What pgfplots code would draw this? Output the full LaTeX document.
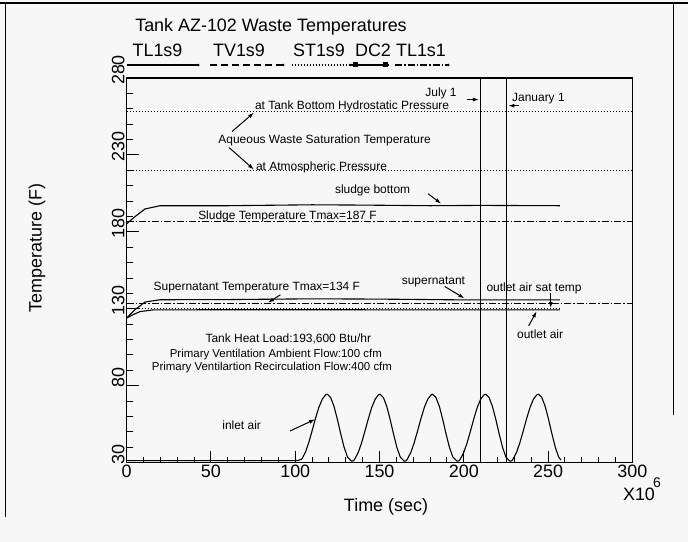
\documentclass[border=0pt]{standalone}
\usepackage{pgfplots}
\pgfplotsset{compat=1.18}
\usepackage{fontspec}
\setmainfont{Liberation Sans}
\usetikzlibrary{arrows.meta}

\definecolor{paper}{RGB}{247,247,247}

\tikzset{
  ann/.style={font=\fontsize{12}{14}\selectfont, anchor=base, inner sep=0pt},
  big/.style={font=\fontsize{18}{20}\selectfont, inner sep=0pt},
  arr/.style={-{Latex[length=6bp,width=4bp]}, line width=1bp},
  dotl/.style={line width=1.1bp, dash pattern=on 1.2bp off 1.8bp},
  dashl/.style={line width=1.1bp, dash pattern=on 7bp off 4bp},
  dashdotl/.style={line width=1.1bp, dash pattern=on 7bp off 2bp on 1.5bp off 2bp},
}

% inlet air temperature (F) vs time (1e6 s)
\pgfplotstableread{
t T
0 31.3
98 31.3
102 31.5
104 32.5
106 36.7
108 43.0
110 50.7
112 58.7
114 65.9
116 71.2
118 74.1
119 74.5
121 72.4
123 66.6
125 58.2
127 48.7
129 40.0
131 33.7
133.4 31
134.6 31.2
135.4 32.5
137.4 36.7
139.4 43.0
141.4 50.7
143.4 58.7
145.4 65.9
147.4 71.2
149.4 74.1
150.3 74.5
152.3 72.4
154.3 66.6
156.3 58.2
158.3 48.7
160.3 40.0
162.3 33.7
164.6 31
165.8 31.2
166.6 32.5
168.6 36.7
170.6 43.0
172.6 50.7
174.6 58.7
176.6 65.9
178.6 71.2
180.6 74.1
181.5 74.5
183.5 72.4
185.5 66.6
187.5 58.2
189.5 48.7
191.5 40.0
193.5 33.7
196 31
197.2 31.2
198 32.5
200 36.7
202 43.0
204 50.7
206 58.7
208 65.9
210 71.2
212 74.1
213 74.5
215 72.4
217 66.6
219 58.2
221 48.7
223 40.0
225 33.7
227.3 31
228.5 31.2
229.3 32.5
231.3 36.7
233.3 43.0
235.3 50.7
237.3 58.7
239.3 65.9
241.3 71.2
243.3 74.1
244.3 74.5
246.3 72.4
248.3 66.6
250.3 58.2
252.3 48.7
254.3 40.0
256.3 33.7
257.6 31.8
}\inletair

\begin{document}
\begin{tikzpicture}[x=1bp,y=1bp]
\fill[paper] (0,0) rectangle (688,542);
\path[use as bounding box] (0,0) rectangle (688,542);
% frame of the scanned page
\draw[line width=2bp] (0,539) -- (688,539);
\draw[line width=1bp] (5,539) -- (5,25);
\draw[line width=1bp] (673,539) -- (673,127);

% title and key
\node[big] at (271,515.3) {Tank AZ-102 Waste Temperatures};
\node[big] at (157.5,491.3) {TL1s9};
\node[big] at (239,491.3) {TV1s9};
\node[big] at (319,491.3) {ST1s9};
\node[big] at (373,491.3) {DC2};
\node[big] at (421,491.3) {TL1s1};
\draw[line width=1.1bp] (126.7,477) -- (198.3,477);
\draw[dashl] (210,477) -- (283.3,477);
\draw[dotl] (291.7,477) -- (350,477);
\draw[line width=1.1bp] (350.7,477) -- (389.3,477);
\fill (352.5,474.5) rectangle (357.5,479.5);
\fill (382.5,474.5) rectangle (387.5,479.5);
\draw[dashdotl] (395,477) -- (448.3,477);
\foreach \p in {198.3,283.3,350,448.3} \fill (\p,477) circle (1.3bp);

% axis titles
\node[big, rotate=90] at (37,294) {Temperature (F)};
\node[big] at (386,35) {Time (sec)};
\node[big] at (639,48) {X10};
\node[font=\fontsize{14}{16}\selectfont, inner sep=0pt] at (657,59) {6};

\begin{axis}[
  at={(126.7bp,79.3bp)}, anchor=south west,
  scale only axis, width=505.6bp, height=384.7bp,
  xmin=0, xmax=300, ymin=30, ymax=280,
  xtick={0,50,...,300}, ytick={30,80,...,280},
  minor xtick={0,10,...,300}, minor ytick={30,40,...,280},
  tick pos=left, tick align=inside,
  major tick length=12bp, minor tick length=6bp,
  every tick/.style={black, line width=1bp},
  axis line style={line width=1.3bp},
  /pgf/number format/assume math mode=true,
  tick label style={font=\fontsize{18}{20}\selectfont},
  xticklabel style={inner sep=2bp},
  yticklabel style={rotate=90, anchor=south, inner sep=2bp, xshift=8bp},
  clip=false,
]
% saturation temperatures
\addplot[dotl] coordinates {(0,258.2) (300,258.2)};
\addplot[dotl] coordinates {(0,220) (300,220)};
% Tmax lines
\addplot[dashdotl] coordinates {(0,186.7) (300,186.7)};
\addplot[dashdotl] coordinates {(0,133.7) (300,133.7)};
% sludge bottom
\addplot[line width=1.1bp] coordinates {
  (0,185.3) (5,190) (10.9,194.9) (19.8,197) (60,197) (110,197.6)
  (140,197.4) (180,197) (210,197.2) (257,197)};
% supernatant
\addplot[line width=1.1bp] coordinates {
  (0,124) (5,129.5) (10.9,134.4) (19.8,135.9) (60,136) (110,136.5)
  (150,136.3) (200,135.8) (257,135.8)};
% outlet air sat temp
\addplot[dotl] coordinates {(0,130.3) (257,130.3)};
% outlet air
\addplot[line width=1.1bp] coordinates {
  (0,124) (4,126.3) (7.9,128.2) (15.8,129.3) (60,129.4) (257,129.3)};
% inlet air
\addplot[line width=1.1bp] table[x=t, y=T] {\inletair};
% July 1 and January 1
\addplot[line width=1.1bp] coordinates {(210.1,30) (210.1,280)};
\addplot[line width=1.1bp] coordinates {(225.5,30) (225.5,280)};

% annotations
\node[ann] at (axis cs:133.7,259.3) {at Tank Bottom Hydrostatic Pressure};
\node[ann] at (axis cs:117.4,237.7) {Aqueous Waste Saturation Temperature};
\node[ann] at (axis cs:115.6,219.8) {at Atmospheric Pressure};
\draw[arr] (axis cs:62.5,245.2) -- (axis cs:75.5,257.5);
\draw[arr] (axis cs:60.7,234.8) -- (axis cs:75.5,220.5);
\node[ann] at (axis cs:186.5,267.8) {July 1};
\draw[arr] (axis cs:202,266) -- (axis cs:209,266);
\node[ann] at (axis cs:244.3,264.5) {January 1};
\draw[arr] (axis cs:232.5,262) -- (axis cs:226.5,262);
\node[ann] at (axis cs:145.9,205.2) {sludge bottom};
\draw[arr] (axis cs:178.8,204.8) -- (axis cs:186.6,198.3);
\node[ann] at (axis cs:95.4,188.2) {Sludge Temperature Tmax=187 F};
\node[ann] at (axis cs:77.2,141.7) {Supernatant Temperature Tmax=134 F};
\draw[arr] (axis cs:91.2,139.1) -- (axis cs:83.8,134);
\node[ann] at (axis cs:182,146.1) {supernatant};
\draw[arr] (axis cs:188.7,144.5) -- (axis cs:200.4,136.8);
\node[ann] at (axis cs:241.7,141.1) {outlet air sat temp};
\draw[arr] (axis cs:251.6,140.2) -- (axis cs:251.6,130.5);
\node[ann] at (axis cs:245.3,110.9) {outlet air};
\draw[arr] (axis cs:238.5,118.9) -- (axis cs:243.2,128.3);
\node[ann] at (axis cs:95.9,108.2) {Tank Heat Load:193,600 Btu/hr};
\node[ann, font=\fontsize{11.5}{13}\selectfont] at (axis cs:88.5,98.4) {Primary Ventilation Ambient Flow:100 cfm};
\node[ann, font=\fontsize{11.5}{13}\selectfont] at (axis cs:86.2,90) {Primary Ventilartion Recirculation Flow:400 cfm};
\node[ann] at (axis cs:68.2,51.7) {inlet air};
\draw[arr] (axis cs:96.9,50.6) -- (axis cs:111.8,58.2);
\end{axis}
\end{tikzpicture}
\end{document}
